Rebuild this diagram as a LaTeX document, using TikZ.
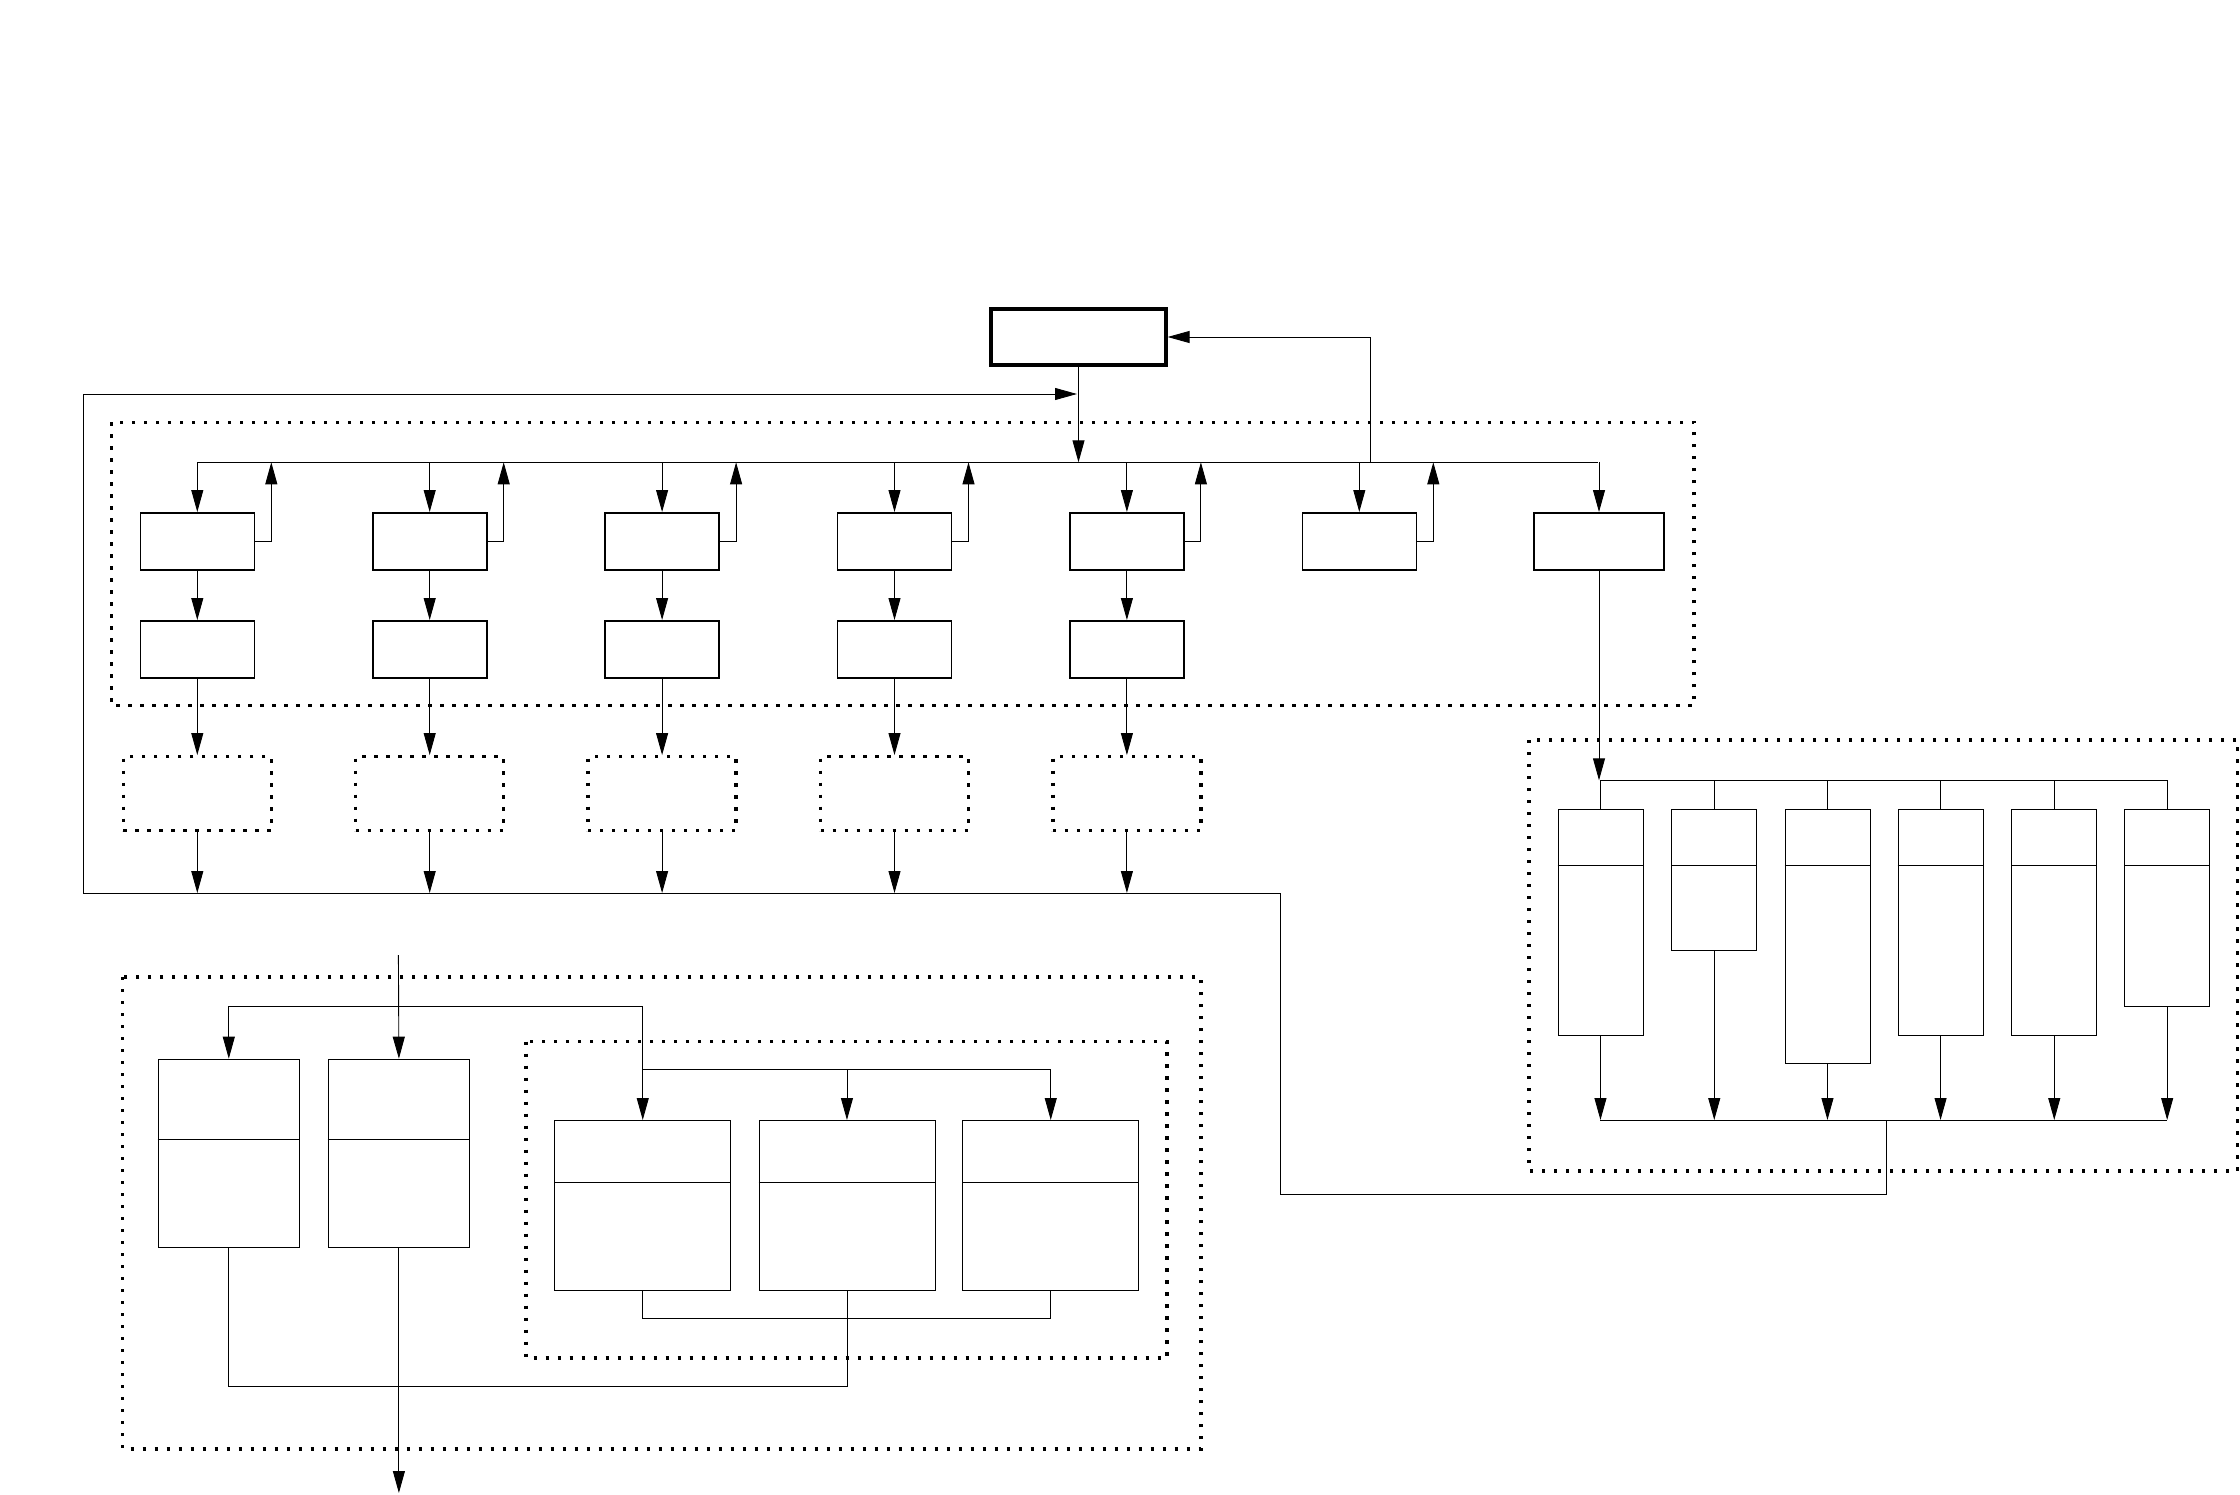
\documentclass[tikz,border=0pt]{standalone}
\usetikzlibrary{arrows.meta}
\begin{document}
\begin{tikzpicture}[x=1pt,y=-1pt,
  conn/.style={line width=0.9pt},
  arr/.style={conn,-{Triangle[length=22pt,width=12pt]}},
  rowbox/.style={draw,line width=1.6pt,minimum width=114pt,minimum height=57pt,inner sep=0pt},
  topbox/.style={draw,line width=3.2pt,minimum width=175pt,minimum height=56pt,inner sep=0pt},
  dotbox/.style={draw,line width=3.3pt,dash pattern=on 3.3pt off 8.7pt,minimum width=148pt,minimum height=74pt,inner sep=0pt},
  frame/.style={draw,line width=3.3pt,dash pattern=on 3.3pt off 8.7pt},
  cell/.style={draw,line width=0.9pt,inner sep=0pt,anchor=north west}
]
\useasboundingbox (0,0) rectangle (2240,1495);

% ---------- top part ----------
\node[topbox] (top) at (1078.5,337) {};
\draw[frame] (111.7,422.3) rectangle (1694,705.7);

\coordinate (busL) at (197.3,462.3);
\coordinate (busR) at (1598,462.3);
\draw[conn] (busL) -- (busR);
\draw[arr] (top.south) -- (top.south |- busL);

\foreach \i/\x in {1/197.3,2/429.7,3/662.1,4/894.5,5/1126.9,6/1359.3}{
  \node[rowbox] (a\i) at (\x,541.3) {};
  \draw[arr] (a\i.north |- busL) -- (a\i.north);
  \coordinate (up\i) at (\x+74,462.3);
  \draw[arr] (a\i.east) -| (up\i);
}
\node[rowbox,minimum width=130pt] (a7) at (1599,541.3) {};
\draw[arr] (a7.north |- busL) -- (a7.north);

\coordinate (lowY) at (0,893);
\foreach \i/\x in {1/197.3,2/429.7,3/662.1,4/894.5,5/1126.9}{
  \node[rowbox] (b\i) at (\x,649.3) {};
  \draw[arr] (a\i.south) -- (b\i.north);
  \node[dotbox] (d\i) at (\x,793.7) {};
  \draw[arr] (b\i.south) -- (d\i.north);
  \draw[arr] (d\i.south) -- (d\i.south |- lowY);
}

% feedback lines
\coordinate (fbA) at (83.3,893);
\coordinate (fbT) at (1077,394);
\draw[arr] (fbA) |- (fbT);
\coordinate (rfb) at (1370.7,462.3);
\draw[arr] (rfb) |- (top.east);

% ---------- right panel ----------
\draw[frame] (1529,740) rectangle (2237.5,1171);
\coordinate (pb1) at (0,780.3);
\coordinate (pb2) at (0,1120);
\draw[arr] (a7.south) -- (a7.south |- pb1);
\foreach \i/\x/\h in {1/1557.5/226.5,2/1671.3/141.8,3/1784.5/254.5,4/1897.6/226.5,5/2011.3/226.5,6/2124.2/197.8}{
  \node[cell,minimum width=85pt,minimum height=\h pt] (p\i) at (\x,808.5) {};
  \draw[conn] (p\i.north west) ++(0,56.8) -- ++(85,0);
  \draw[conn] (p\i.north |- pb1) -- (p\i.north);
  \draw[arr] (p\i.south) -- (p\i.south |- pb2);
}
\draw[conn] (p1.north |- pb1) -- (p6.north |- pb1);
\draw[conn] (p1.south |- pb2) -- (p6.south |- pb2);
\coordinate (ret) at (1886,1120);
\coordinate (retC) at (1280,893);
\draw[conn] (fbA) -- (retC) -- (1280,1194.3) -| (ret);

% ---------- bottom-left panel ----------
\draw[frame] (122.7,977) rectangle (1201,1449);
\draw[frame] (526,1041.5) rectangle (1167,1358);
\foreach \n/\x in {A/157.6,B/327.7}{
  \node[cell,minimum width=141.5pt,minimum height=188pt] (\n) at (\x,1058.7) {};
  \draw[conn] (\n.north west) ++(0,80.3) -- ++(141.5,0);
}
\foreach \n/\x in {C/554.3,D/758.5,E/962.3}{
  \node[cell,minimum width=176pt,minimum height=170pt] (\n) at (\x,1120) {};
  \draw[conn] (\n.north west) ++(0,62.3) -- ++(176,0);
}
\coordinate (in) at (398.4,955);
\coordinate (brY) at (0,1006.8);
\coordinate (ibY) at (0,1069.5);
\coordinate (jY) at (0,1318.5);
\coordinate (bY) at (0,1386.3);
\coordinate (out) at (0,1493);

\draw[arr] (in) -- (B.north);
\draw[arr] (C.north |- brY) -| (A.north);
\draw[arr] (C.north |- brY) -- (C.north);
\draw[conn] (C.north |- ibY) -- (E.north |- ibY);
\draw[arr] (D.north |- ibY) -- (D.north);
\draw[arr] (E.north |- ibY) -- (E.north);
\draw[conn] (C.south) -- (C.south |- jY) -- (E.south |- jY) -- (E.south);
\draw[conn] (D.south) -- (D.south |- bY) -- (A.south |- bY) -- (A.south);
\draw[arr] (B.south) -- (B.south |- out);
\end{tikzpicture}
\end{document}
